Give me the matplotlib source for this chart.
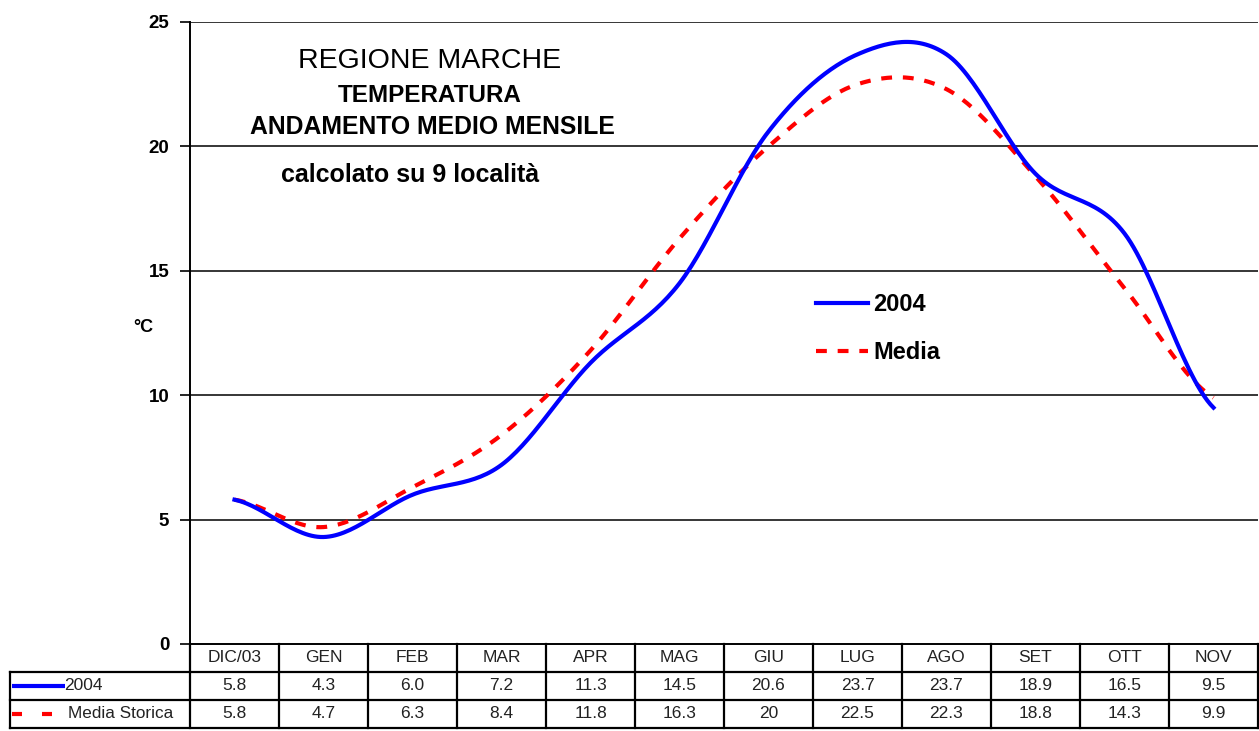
import numpy as np
import matplotlib
matplotlib.use("Agg")
import matplotlib.pyplot as plt

plt.rcParams['font.family'] = ['Liberation Sans', 'DejaVu Sans']

months = ["DIC/03", "GEN", "FEB", "MAR", "APR", "MAG", "GIU", "LUG", "AGO", "SET", "OTT", "NOV"]
temp_2004 = [5.8, 4.3, 6.0, 7.2, 11.3, 14.5, 20.6, 23.7, 23.7, 18.9, 16.5, 9.5]
temp_media = [5.8, 4.7, 6.3, 8.4, 11.8, 16.3, 20, 22.5, 22.3, 18.8, 14.3, 9.9]
labels_2004 = ["5.8", "4.3", "6.0", "7.2", "11.3", "14.5", "20.6", "23.7", "23.7", "18.9", "16.5", "9.5"]
labels_media = ["5.8", "4.7", "6.3", "8.4", "11.8", "16.3", "20", "22.5", "22.3", "18.8", "14.3", "9.9"]
yticks = [0, 5, 10, 15, 20, 25]

W, H = 1259, 731
fig = plt.figure(figsize=(W / 100, H / 100), dpi=100)
ax = fig.add_axes([190 / W, (H - 644) / H, (1258 - 190) / W, (644 - 22) / H])


def smooth(y, n=30):
    """Excel-like smoothed line (Catmull-Rom through the data points)."""
    y = np.asarray(y, float)
    x = np.arange(len(y), dtype=float)
    p = np.concatenate([[y[0]], y, [y[-1]]])
    xs, ys = [], []
    for i in range(len(y) - 1):
        p0, p1, p2, p3 = p[i], p[i + 1], p[i + 2], p[i + 3]
        t = np.linspace(0, 1, n, endpoint=(i == len(y) - 2))
        yy = 0.5 * ((2 * p1) + (-p0 + p2) * t + (2 * p0 - 5 * p1 + 4 * p2 - p3) * t ** 2
                    + (-p0 + 3 * p1 - 3 * p2 + p3) * t ** 3)
        xs.append(x[i] + t)
        ys.append(yy)
    return np.concatenate(xs), np.concatenate(ys)


xm, ym = smooth(temp_media)
x4, y4 = smooth(temp_2004)
lm, = ax.plot(xm, ym, color='#ff0000', lw=3, dashes=(2.6, 2.6), label='Media', zorder=3)
l4, = ax.plot(x4, y4, color='#0000ff', lw=3, label='2004', zorder=4)

ax.set_xlim(-0.5, len(months) - 0.5)
ax.set_ylim(0, 25)
ax.set_yticks(yticks)
ax.set_yticklabels([str(v) for v in yticks], fontsize=13.5, fontweight='bold')
ax.tick_params(axis='y', direction='out', length=7, width=1.2, pad=8)
ax.set_xticks([])
for yv in yticks[1:]:
    ax.axhline(yv, color='black', lw=1.1, zorder=1)
for s in ['top', 'right']:
    ax.spines[s].set_visible(False)
ax.spines['left'].set_linewidth(1.4)
ax.spines['bottom'].set_linewidth(1.4)

fig.text(143 / W, 1 - 328 / H, "°C", fontsize=13, fontweight='bold', ha='center', va='center')

# title block
fig.text(430 / W, 1 - 61 / H, "REGIONE MARCHE", fontsize=20.5, ha='center', va='center')
fig.text(430 / W, 1 - 96 / H, "TEMPERATURA", fontsize=17.5, fontweight='bold', ha='center', va='center')
fig.text(432 / W, 1 - 127 / H, "ANDAMENTO MEDIO MENSILE", fontsize=17.8, fontweight='bold', ha='center', va='center')
fig.text(410 / W, 1 - 175 / H, "calcolato su 9 località", fontsize=18, fontweight='bold', ha='center', va='center')

# legend
leg = ax.legend(handles=[l4, lm], loc='upper left', bbox_to_anchor=(0.566, 0.598), frameon=False,
                prop={'size': 17, 'weight': 'bold'}, handlelength=2.2, labelspacing=1.05,
                handletextpad=0.25)

# data table under the axes
trans = ax.get_xaxis_transform()
ax_h = 644 - 22
row_h = 28 / ax_h
n = len(months)
left_lab = -0.5 - 180 / 89.0
y_top = 0
y1 = -row_h
y2 = -2 * row_h
y3 = -3 * row_h
lk = dict(color='black', lw=1.6, transform=trans, clip_on=False)
ax.plot([left_lab, n - 0.5], [y1, y1], **lk)
ax.plot([left_lab, n - 0.5], [y2, y2], **lk)
ax.plot([left_lab, n - 0.5], [y3, y3], **lk)
ax.plot([left_lab, left_lab], [y1, y3], **lk)
for i in range(n + 1):
    ax.plot([i - 0.5, i - 0.5], [y_top, y3], **lk)

tk = dict(transform=trans, ha='center', va='center', fontsize=12.5, clip_on=False, color='#222222')
for i in range(n):
    ax.text(i, (y_top + y1) / 2, months[i], **tk)
    ax.text(i, (y1 + y2) / 2, labels_2004[i], **tk)
    ax.text(i, (y2 + y3) / 2, labels_media[i], **tk)

# row labels with line keys
ax.plot([left_lab + 0.02, left_lab + 0.62], [(y1 + y2) / 2] * 2, color='#0000ff', lw=3,
        transform=trans, clip_on=False, solid_capstyle='butt')
ax.text(left_lab + 0.61, (y1 + y2) / 2, "2004", transform=trans, ha='left', va='center',
        fontsize=12.5, clip_on=False, color='#222222')
ax.plot([left_lab + 0.02, left_lab + 0.47], [(y2 + y3) / 2] * 2, color='#ff0000', lw=3,
        dashes=(2.4, 4.8), transform=trans, clip_on=False)
ax.text(left_lab + 0.65, (y2 + y3) / 2, "Media Storica", transform=trans, ha='left', va='center',
        fontsize=12.3, clip_on=False, color='#222222')

fig.savefig("out.png", dpi=100)
